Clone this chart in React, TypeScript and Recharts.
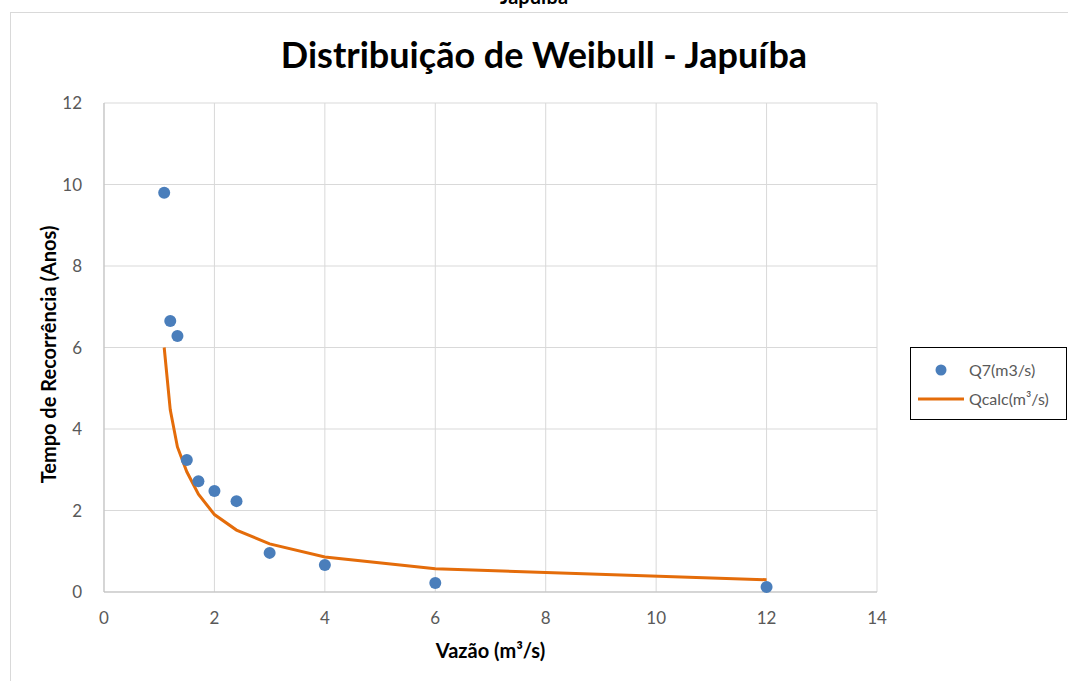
import React from "react";
import {
  ComposedChart,
  Scatter,
  Line,
  XAxis,
  YAxis,
  CartesianGrid,
} from "recharts";

const periods = [1.09, 1.2, 1.33, 1.5, 1.71, 2.0, 2.4, 3.0, 4.0, 6.0, 12.0];
const q7 = [9.8, 6.65, 6.28, 3.24, 2.72, 2.48, 2.23, 0.96, 0.66, 0.22, 0.12];
const qcalc = [6.0, 4.47, 3.56, 2.95, 2.4, 1.9, 1.52, 1.18, 0.86, 0.57, 0.3];
const xTicks = [0, 2, 4, 6, 8, 10, 12, 14];
const yTicks = [0, 2, 4, 6, 8, 10, 12];

const FONT = "Lato, 'Open Sans', sans-serif";
const BLUE = "#4a7ebb";
const ORANGE = "#e46c0a";

const q7Data = periods.map((x, i) => ({ x, y: q7[i] }));
const calcData = periods.map((x, i) => ({ x, y: qcalc[i] }));

function LegendBox() {
  return (
    <div
      style={{
        position: "absolute",
        left: 910,
        top: 347,
        border: "1px solid #000",
        background: "#fff",
        width: 157,
        height: 73,
        fontFamily: FONT,
        fontSize: 16,
        color: "#595959",
        boxSizing: "border-box",
        paddingTop: 7,
      }}
    >
      <div style={{ display: "flex", alignItems: "center", height: 29 }}>
        <div style={{ width: 56, display: "flex", justifyContent: "center", paddingLeft: 2 }}>
          <svg width="12" height="12">
            <circle cx="6" cy="6" r="5.5" fill={BLUE} />
          </svg>
        </div>
        <span>Q7(m3/s)</span>
      </div>
      <div style={{ display: "flex", alignItems: "center", height: 29 }}>
        <div style={{ width: 56, display: "flex", justifyContent: "center", paddingLeft: 2 }}>
          <svg width="46" height="4">
            <line x1="0" y1="2" x2="46" y2="2" stroke={ORANGE} strokeWidth="3" />
          </svg>
        </div>
        <span>Qcalc(m³/s)</span>
      </div>
    </div>
  );
}

export default function App() {
  return (
    <div
      style={{
        position: "absolute",
        left: 0,
        top: 0,
        width: 1068,
        height: 681,
        background: "#fff",
        overflow: "hidden",
        fontFamily: FONT,
      }}
    >
      <div
        style={{
          position: "absolute",
          left: 0,
          width: 1068,
          top: -16,
          textAlign: "center",
          fontSize: 20,
          fontWeight: 700,
          color: "#000",
          boxSizing: "border-box",
        }}
      >
        Japuíba
      </div>
      <div
        style={{
          position: "absolute",
          left: 10,
          top: 12,
          width: 1080,
          height: 700,
          border: "1px solid #d9d9d9",
        }}
      />
      <div
        style={{
          position: "absolute",
          left: 0,
          width: 1068,
          top: 32,
          textAlign: "center",
          fontSize: 36,
          fontWeight: 700,
          color: "#000",
          paddingLeft: 20,
          boxSizing: "border-box",
        }}
      >
        Distribuição de Weibull - Japuíba
      </div>
      <div style={{ position: "absolute", left: 0, top: 0 }}>
        <ComposedChart
          width={1068}
          height={681}
          margin={{ top: 103, right: 191, bottom: 59, left: 44 }}
        >
          <CartesianGrid stroke="#d9d9d9" strokeWidth={1} />
          <XAxis
            type="number"
            dataKey="x"
            domain={[0, 14]}
            ticks={xTicks}
            allowDataOverflow
            tickLine={false}
            axisLine={{ stroke: "#bfbfbf" }}
            tick={{ fill: "#595959", fontSize: 17, fontFamily: FONT }}
            tickMargin={14}
            height={30}
            label={{
              value: "Vazão (m³/s)",
              position: "insideBottom",
              offset: -36,
              style: { fontWeight: 700, fontSize: 20, fill: "#000", fontFamily: FONT },
            }}
          />
          <YAxis
            type="number"
            dataKey="y"
            domain={[0, 12]}
            ticks={yTicks}
            tickLine={false}
            axisLine={{ stroke: "#bfbfbf" }}
            tick={{ fill: "#595959", fontSize: 17, fontFamily: FONT }}
            tickMargin={16}
            width={60}
            label={{
              value: "Tempo de Recorrência (Anos)",
              angle: -90,
              position: "insideLeft",
              offset: 5,
              dy: 7,
              style: {
                fontWeight: 700,
                fontSize: 20,
                fill: "#000",
                fontFamily: FONT,
                textAnchor: "middle",
              },
            }}
          />
          <Scatter
            name="Q7(m3/s)"
            data={q7Data}
            fill={BLUE}
            shape={(p: any) => <circle cx={p.cx} cy={p.cy} r={6} fill={BLUE} />}
            isAnimationActive={false}
          />
          <Line
            name="Qcalc(m³/s)"
            data={calcData}
            dataKey="y"
            type="linear"
            stroke={ORANGE}
            strokeWidth={3}
            dot={false}
            activeDot={false}
            isAnimationActive={false}
          />
        </ComposedChart>
      </div>
      <LegendBox />
    </div>
  );
}
